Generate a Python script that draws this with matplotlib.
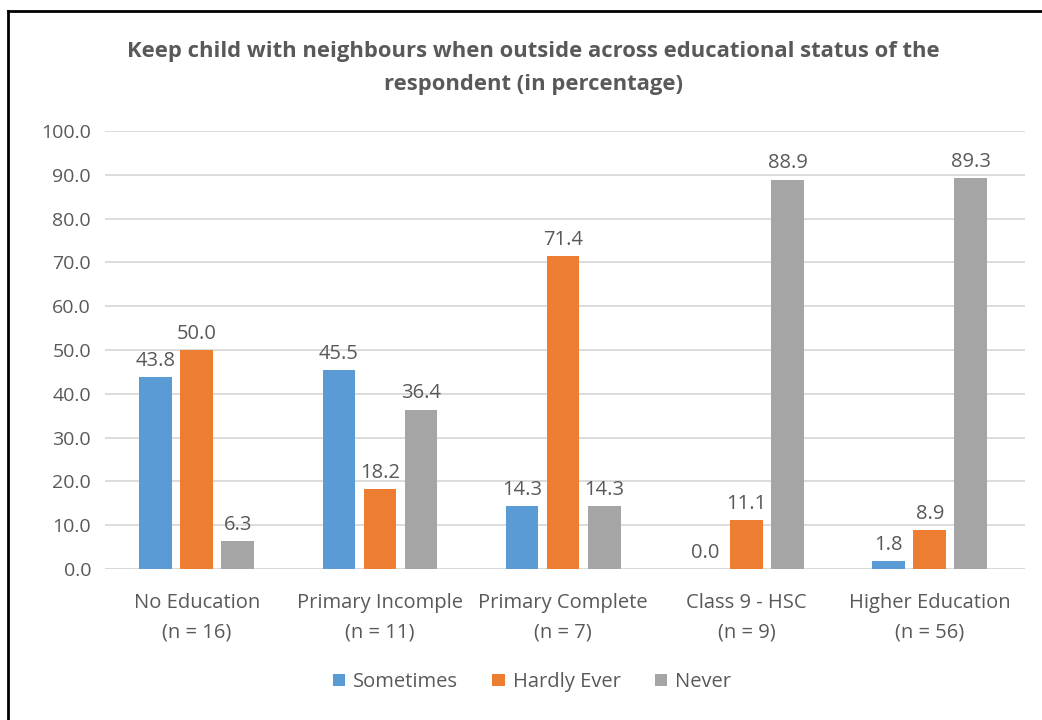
import matplotlib.pyplot as plt
from matplotlib.lines import Line2D
import numpy as np

plt.rcParams['font.family'] = ['Open Sans', 'DejaVu Sans']

categories = ["No Education\n(n = 16)", "Primary Incomple\n(n = 11)", "Primary Complete\n(n = 7)",
              "Class 9 - HSC\n(n = 9)", "Higher Education\n(n = 56)"]
series_names = ["Sometimes", "Hardly Ever", "Never"]
sometimes = [43.8, 45.5, 14.3, 0.0, 1.8]
hardly_ever = [50.0, 18.2, 71.4, 11.1, 8.9]
never = [6.3, 36.4, 14.3, 88.9, 89.3]
yticks = [0, 10, 20, 30, 40, 50, 60, 70, 80, 90, 100]

colors = ["#5B9BD5", "#ED7D31", "#A5A5A5"]
text_color = "#595959"

fig = plt.figure(figsize=(10.42, 7.2), dpi=100)
ax = fig.add_axes([105 / 1042, 1 - 569 / 720, 920 / 1042, 438 / 720])

x = np.arange(len(categories))
width = 0.178
step = 0.224
for i, (vals, name, c) in enumerate(zip([sometimes, hardly_ever, never], series_names, colors)):
    pos = x + (i - 1) * step
    ax.bar(pos, vals, width=width, color=c, label=name, zorder=3)
    for px, v in zip(pos, vals):
        ax.text(px, v + 1.4, f"{v:.1f}", ha="center", va="bottom",
                fontsize=14.5, color=text_color, zorder=4)

ax.set_xlim(-0.5, 4.52)
ax.set_ylim(0, 100)
ax.set_yticks(yticks)
ax.set_yticklabels([f"{t:.1f}" for t in yticks], fontsize=14, color=text_color)
ax.set_xticks(x)
ax.set_xticklabels(categories, fontsize=14.5, color=text_color, linespacing=1.65)
ax.tick_params(axis="y", length=0, pad=10)
ax.tick_params(axis="x", length=0, pad=17)
ax.grid(axis="y", color="#D9D9D9", linewidth=1.3, zorder=0)
for s in ax.spines.values():
    s.set_visible(False)
ax.axhline(0, color="#D9D9D9", linewidth=1.3, zorder=2)

fig.text(0.512, 1 - 68 / 720,
         "Keep child with neighbours when outside across educational status of the\nrespondent (in percentage)",
         ha="center", va="center", fontsize=15.8, fontweight="bold", color=text_color, linespacing=1.75)

leg = fig.legend(loc="center", bbox_to_anchor=(532 / 1042, 1 - 682 / 720), ncol=3, frameon=False,
                 fontsize=14.5, handlelength=0.6, handleheight=0.6, handletextpad=0.4, columnspacing=1.7)
for t in leg.get_texts():
    t.set_color(text_color)

# outer frame (top and left edges)
fig.add_artist(Line2D([8 / 1042, 1.0], [1 - 11 / 720, 1 - 11 / 720], transform=fig.transFigure,
                      color="black", linewidth=2))
fig.add_artist(Line2D([8 / 1042, 8 / 1042], [0, 1 - 11 / 720], transform=fig.transFigure,
                      color="black", linewidth=2))

fig.savefig("out.png", dpi=100, facecolor="white")
